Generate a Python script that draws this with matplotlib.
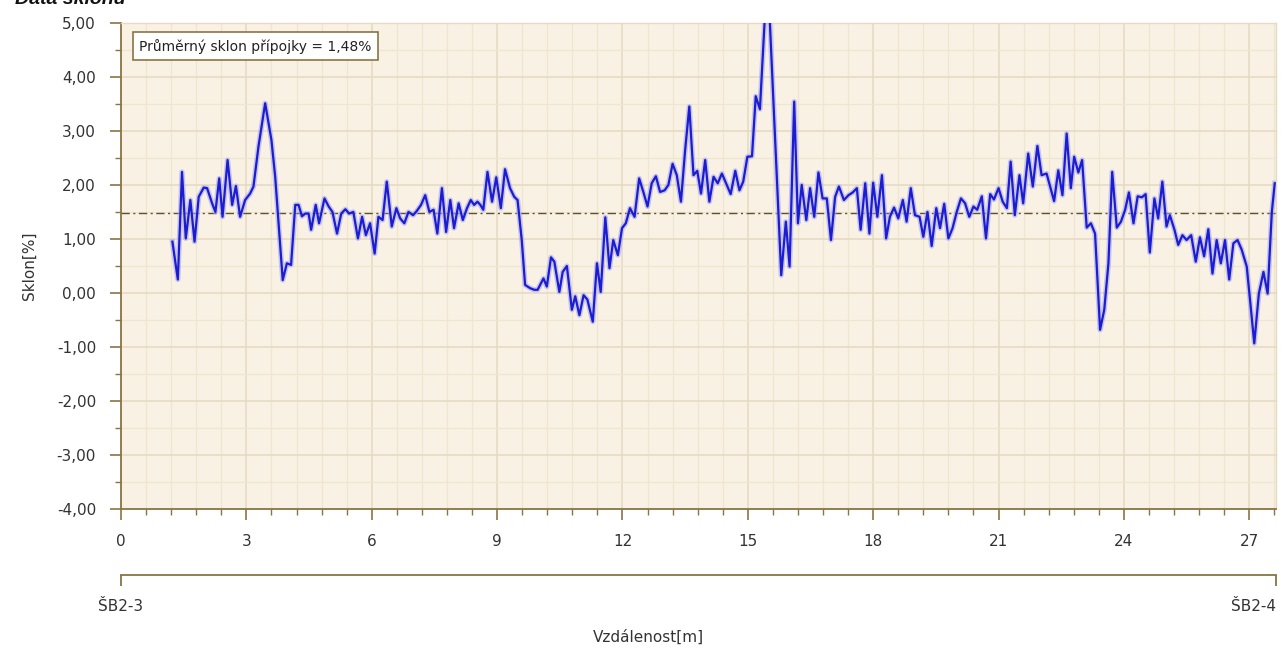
import matplotlib
matplotlib.use("Agg")
import matplotlib.pyplot as plt
from matplotlib.ticker import MultipleLocator, FuncFormatter

# vzdalenost [m] a sklon [%]
dist = [1.23, 1.36, 1.46, 1.55, 1.66, 1.76, 1.86, 1.98, 2.06, 2.18, 2.26, 2.35, 2.43, 2.55, 2.66,
        2.75, 2.85, 2.97, 3.09, 3.17, 3.29, 3.45, 3.60, 3.69, 3.77, 3.87, 3.97, 4.07, 4.17, 4.25,
        4.33, 4.41, 4.49, 4.55, 4.66, 4.74, 4.87, 4.97, 5.06, 5.17, 5.27, 5.37, 5.46, 5.56, 5.67,
        5.77, 5.86, 5.96, 6.07, 6.16, 6.26, 6.36, 6.48, 6.59, 6.68, 6.78, 6.88, 6.99, 7.08, 7.18,
        7.28, 7.38, 7.48, 7.57, 7.68, 7.78, 7.88, 7.97, 8.08, 8.18, 8.28, 8.37, 8.45, 8.53, 8.60,
        8.67, 8.77, 8.88, 8.98, 9.09, 9.19, 9.31, 9.41, 9.49, 9.59, 9.67, 9.79, 9.89, 9.97, 10.05,
        10.11, 10.19, 10.29, 10.37, 10.49, 10.57, 10.67, 10.79, 10.87, 10.97, 11.07, 11.16, 11.29,
        11.39, 11.48, 11.59, 11.69, 11.78, 11.89, 11.99, 12.08, 12.18, 12.29, 12.40, 12.50, 12.60,
        12.70, 12.80, 12.90, 13.01, 13.10, 13.20, 13.30, 13.40, 13.50, 13.60, 13.70, 13.79, 13.88,
        13.98, 14.08, 14.18, 14.28, 14.38, 14.48, 14.59, 14.70, 14.80, 14.89, 14.99, 15.10, 15.19,
        15.29, 15.47, 15.80, 15.91, 16.00, 16.11, 16.20, 16.29, 16.40, 16.49, 16.59, 16.69, 16.79,
        16.89, 16.99, 17.09, 17.18, 17.30, 17.41, 17.51, 17.61, 17.70, 17.81, 17.91, 18.00, 18.10,
        18.21, 18.31, 18.40, 18.50, 18.60, 18.71, 18.80, 18.90, 19.00, 19.11, 19.20, 19.30, 19.40,
        19.51, 19.60, 19.70, 19.80, 19.90, 20.00, 20.10, 20.20, 20.30, 20.40, 20.49, 20.60, 20.70,
        20.80, 20.89, 21.00, 21.10, 21.20, 21.29, 21.39, 21.50, 21.59, 21.71, 21.82, 21.93, 22.03,
        22.15, 22.33, 22.43, 22.53, 22.63, 22.73, 22.81, 22.91, 23.00, 23.11, 23.21, 23.31, 23.43,
        23.53, 23.63, 23.72, 23.83, 23.93, 24.03, 24.12, 24.23, 24.33, 24.43, 24.52, 24.62, 24.73,
        24.82, 24.92, 25.02, 25.10, 25.21, 25.30, 25.40, 25.50, 25.61, 25.72, 25.82, 25.92, 26.02,
        26.12, 26.22, 26.32, 26.42, 26.52, 26.62, 26.72, 26.82, 26.94, 27.12, 27.23, 27.34, 27.44,
        27.54, 27.61]
slope = [0.95, 0.25, 2.24, 1.01, 1.72, 0.95, 1.78, 1.95, 1.94, 1.66, 1.50, 2.12, 1.41, 2.46, 1.63,
         1.98, 1.41, 1.72, 1.84, 1.97, 2.71, 3.51, 2.83, 2.15, 1.29, 0.24, 0.55, 0.52, 1.63, 1.63,
         1.42, 1.47, 1.47, 1.17, 1.63, 1.29, 1.75, 1.60, 1.50, 1.10, 1.47, 1.55, 1.47, 1.50, 1.01,
         1.41, 1.07, 1.29, 0.73, 1.41, 1.35, 2.06, 1.23, 1.57, 1.38, 1.29, 1.50, 1.44, 1.52, 1.63,
         1.81, 1.50, 1.54, 1.10, 1.94, 1.13, 1.72, 1.20, 1.66, 1.35, 1.57, 1.72, 1.63, 1.69, 1.63,
         1.54, 2.24, 1.69, 2.14, 1.57, 2.29, 1.94, 1.78, 1.72, 0.98, 0.15, 0.09, 0.06, 0.06, 0.18,
         0.27, 0.12, 0.66, 0.58, 0.02, 0.39, 0.50, -0.31, -0.06, -0.41, -0.04, -0.12, -0.53,
         0.55, 0.02, 1.40, 0.46, 0.98, 0.70, 1.20, 1.29, 1.57, 1.41, 2.12, 1.87, 1.60,
         2.03, 2.16, 1.87, 1.90, 2.00, 2.39, 2.18, 1.69, 2.64, 3.45, 2.18, 2.26, 1.84,
         2.46, 1.69, 2.15, 2.03, 2.21, 2.03, 1.83, 2.26, 1.90, 2.06, 2.52, 2.53, 3.64,
         3.40, 6.00, 0.33, 1.32, 0.49, 3.54, 1.29, 2.00, 1.35, 1.94, 1.41, 2.23, 1.75,
         1.75, 0.98, 1.78, 1.97, 1.72, 1.81, 1.86, 1.94, 1.17, 2.03, 1.10, 2.04, 1.41,
         2.18, 1.01, 1.41, 1.58, 1.38, 1.72, 1.32, 1.94, 1.44, 1.41, 1.04, 1.50, 0.87,
         1.57, 1.20, 1.65, 1.01, 1.20, 1.50, 1.75, 1.66, 1.41, 1.60, 1.54, 1.79, 1.01,
         1.83, 1.73, 1.94, 1.69, 1.57, 2.43, 1.44, 2.18, 1.66, 2.58, 1.97, 2.72, 2.18,
         2.21, 1.70, 2.27, 1.81, 2.95, 1.94, 2.52, 2.23, 2.46, 1.21, 1.29, 1.10, -0.68,
         -0.31, 0.55, 2.24, 1.21, 1.32, 1.54, 1.86, 1.29, 1.79, 1.77, 1.83, 0.75, 1.75,
         1.38, 2.06, 1.23, 1.44, 1.17, 0.89, 1.07, 0.98, 1.07, 0.58, 1.03, 0.68, 1.18,
         0.36, 0.98, 0.55, 0.98, 0.25, 0.92, 0.98, 0.80, 0.49, -0.93, -0.01, 0.39, -0.01,
         1.50, 2.03]

mean_slope = 1.48
total_length = 27.64
manholes = ["ŠB2-3", "ŠB2-4"]

brown = "#8a7444"
txt = "#333333"
fs = 11

W, H = 1284, 650
fig = plt.figure(figsize=(W / 100, H / 100), dpi=100)
l, r, t, b = 121, 1276, 22.7, 509.3
ax = fig.add_axes([l / W, 1 - b / H, (r - l) / W, (b - t) / H])
ax.set_facecolor("#f9f2e4")

ax.set_xlim(0, total_length)
ax.set_ylim(-4, 5)

# mrizka
ax.xaxis.set_major_locator(MultipleLocator(3))
ax.xaxis.set_minor_locator(MultipleLocator(0.6))
ax.yaxis.set_major_locator(MultipleLocator(1))
ax.yaxis.set_minor_locator(MultipleLocator(0.5))
ax.grid(which="minor", color="#efe6d2", linewidth=1.0)
ax.grid(which="major", color="#e6dbc2", linewidth=1.2)
ax.set_axisbelow(True)

ax.yaxis.set_major_formatter(FuncFormatter(lambda v, p: f"{v:.2f}".replace(".", ",")))
ax.xaxis.set_major_formatter(FuncFormatter(lambda v, p: f"{v:.0f}"))

for s in ["left", "bottom"]:
    ax.spines[s].set_color(brown)
    ax.spines[s].set_linewidth(1.3)
for s in ["top", "right"]:
    ax.spines[s].set_color("#e6dbc2")
    ax.spines[s].set_linewidth(1.0)

ax.tick_params(which="major", length=8, width=1.2, color=brown, pad=10, labelsize=fs, labelcolor=txt)
ax.tick_params(which="minor", length=4, width=1.0, color=brown)

# data
ax.plot(dist, slope, color="#a8a8f2", linewidth=3.8, alpha=0.6, solid_joinstyle="round", zorder=3)
ax.plot(dist, slope, color="#1c1cd0", linewidth=1.6, solid_joinstyle="round", zorder=4)
ax.axhline(mean_slope, color="#5e5030", linewidth=1.0, linestyle=(0, (6, 2.5, 1.5, 2.5)), zorder=2)

ax.text(0.0155, 0.952, "Průměrný sklon přípojky = " + f"{mean_slope:.2f}".replace(".", ",") + "%",
        transform=ax.transAxes, va="center", ha="left", fontsize=10, color="#222222",
        bbox=dict(boxstyle="square,pad=0.45", fc="white", ec=brown, lw=1.2), zorder=5)

ax.set_ylabel("Sklon[%]", fontsize=fs, color=txt, labelpad=14)

# osa se sachtami
ax2 = fig.add_axes([l / W, 1 - 575 / H, (r - l) / W, 0.0001])
ax2.set_xlim(0, total_length)
ax2.patch.set_visible(False)
for s in ["left", "right", "top"]:
    ax2.spines[s].set_visible(False)
ax2.spines["bottom"].set_color(brown)
ax2.spines["bottom"].set_linewidth(1.3)
ax2.set_yticks([])
ax2.set_xticks([0, total_length])
ax2.set_xticklabels(manholes)
ax2.tick_params(axis="x", length=8, width=1.3, color=brown, pad=9, labelsize=fs, labelcolor=txt)
ax2.get_xticklabels()[1].set_ha("right")

fig.text(648 / W, 1 - 637 / H, "Vzdálenost[m]", ha="center", va="center", fontsize=fs, color=txt)
# nadpis je v originale nahore oriznuty
fig.text(15 / W, 1 - 4 / H, "Data sklonu", ha="left", va="baseline", fontsize=14,
         fontweight="bold", fontstyle="italic", family="Liberation Sans", color="#111111")

fig.savefig("out.png", dpi=100)
